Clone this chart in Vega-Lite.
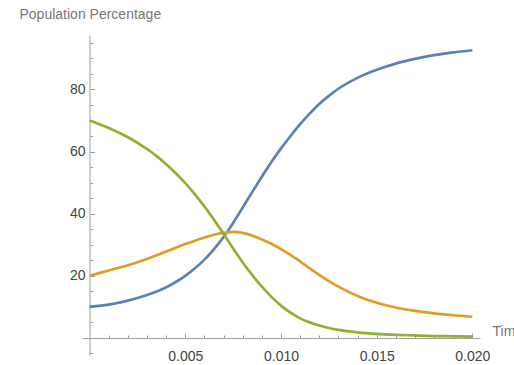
{
  "$schema": "https://vega.github.io/schema/vega-lite/v6.json",
  "width": 398,
  "height": 320,
  "autosize": {"type": "none"},
  "padding": {"left": 82, "top": 35, "right": 34, "bottom": 10},
  "background": "white",
  "config": {
    "view": {"stroke": null},
    "font": "Liberation Sans"
  },
  "data": {
    "values": [
      {"t": 0.000, "s": "A", "v": 10.0}, {"t": 0.000, "s": "B", "v": 20.0}, {"t": 0.000, "s": "C", "v": 70.0},
      {"t": 0.001, "s": "A", "v": 10.7}, {"t": 0.001, "s": "B", "v": 21.7}, {"t": 0.001, "s": "C", "v": 67.6},
      {"t": 0.002, "s": "A", "v": 12.0}, {"t": 0.002, "s": "B", "v": 23.4}, {"t": 0.002, "s": "C", "v": 64.6},
      {"t": 0.003, "s": "A", "v": 13.8}, {"t": 0.003, "s": "B", "v": 25.4}, {"t": 0.003, "s": "C", "v": 60.8},
      {"t": 0.0035, "s": "A", "v": 14.95}, {"t": 0.0035, "s": "B", "v": 26.6}, {"t": 0.0035, "s": "C", "v": 58.5},
      {"t": 0.004, "s": "A", "v": 16.3}, {"t": 0.004, "s": "B", "v": 27.8}, {"t": 0.004, "s": "C", "v": 55.9},
      {"t": 0.0045, "s": "A", "v": 18.0}, {"t": 0.0045, "s": "B", "v": 29.0}, {"t": 0.0045, "s": "C", "v": 53.0},
      {"t": 0.005, "s": "A", "v": 20.0}, {"t": 0.005, "s": "B", "v": 30.2}, {"t": 0.005, "s": "C", "v": 49.8},
      {"t": 0.0055, "s": "A", "v": 22.4}, {"t": 0.0055, "s": "B", "v": 31.3}, {"t": 0.0055, "s": "C", "v": 46.2},
      {"t": 0.006, "s": "A", "v": 25.2}, {"t": 0.006, "s": "B", "v": 32.3}, {"t": 0.006, "s": "C", "v": 42.3},
      {"t": 0.0065, "s": "A", "v": 28.6}, {"t": 0.0065, "s": "B", "v": 33.2}, {"t": 0.0065, "s": "C", "v": 38.0},
      {"t": 0.007, "s": "A", "v": 32.5}, {"t": 0.007, "s": "B", "v": 33.8}, {"t": 0.007, "s": "C", "v": 33.5},
      {"t": 0.0075, "s": "A", "v": 37.0}, {"t": 0.0075, "s": "B", "v": 34.1}, {"t": 0.0075, "s": "C", "v": 28.8},
      {"t": 0.008, "s": "A", "v": 42.0}, {"t": 0.008, "s": "B", "v": 33.8}, {"t": 0.008, "s": "C", "v": 24.3},
      {"t": 0.0085, "s": "A", "v": 47.0}, {"t": 0.0085, "s": "B", "v": 32.9}, {"t": 0.0085, "s": "C", "v": 20.2},
      {"t": 0.009, "s": "A", "v": 51.9}, {"t": 0.009, "s": "B", "v": 31.7}, {"t": 0.009, "s": "C", "v": 16.5},
      {"t": 0.0095, "s": "A", "v": 56.6}, {"t": 0.0095, "s": "B", "v": 30.3}, {"t": 0.0095, "s": "C", "v": 13.2},
      {"t": 0.010, "s": "A", "v": 61.0}, {"t": 0.010, "s": "B", "v": 28.6}, {"t": 0.010, "s": "C", "v": 10.4},
      {"t": 0.0105, "s": "A", "v": 65.0}, {"t": 0.0105, "s": "B", "v": 26.7}, {"t": 0.0105, "s": "C", "v": 8.1},
      {"t": 0.011, "s": "A", "v": 68.8}, {"t": 0.011, "s": "B", "v": 24.6}, {"t": 0.011, "s": "C", "v": 6.3},
      {"t": 0.0115, "s": "A", "v": 72.2}, {"t": 0.0115, "s": "B", "v": 22.4}, {"t": 0.0115, "s": "C", "v": 5.0},
      {"t": 0.012, "s": "A", "v": 75.3}, {"t": 0.012, "s": "B", "v": 20.3}, {"t": 0.012, "s": "C", "v": 4.0},
      {"t": 0.0125, "s": "A", "v": 77.9}, {"t": 0.0125, "s": "B", "v": 18.3}, {"t": 0.0125, "s": "C", "v": 3.2},
      {"t": 0.013, "s": "A", "v": 80.2}, {"t": 0.013, "s": "B", "v": 16.5}, {"t": 0.013, "s": "C", "v": 2.6},
      {"t": 0.014, "s": "A", "v": 83.7}, {"t": 0.014, "s": "B", "v": 13.5}, {"t": 0.014, "s": "C", "v": 1.8},
      {"t": 0.015, "s": "A", "v": 86.3}, {"t": 0.015, "s": "B", "v": 11.3}, {"t": 0.015, "s": "C", "v": 1.3},
      {"t": 0.016, "s": "A", "v": 88.3}, {"t": 0.016, "s": "B", "v": 9.8}, {"t": 0.016, "s": "C", "v": 1.0},
      {"t": 0.017, "s": "A", "v": 89.8}, {"t": 0.017, "s": "B", "v": 8.7}, {"t": 0.017, "s": "C", "v": 0.8},
      {"t": 0.018, "s": "A", "v": 91.0}, {"t": 0.018, "s": "B", "v": 7.9}, {"t": 0.018, "s": "C", "v": 0.6},
      {"t": 0.019, "s": "A", "v": 91.9}, {"t": 0.019, "s": "B", "v": 7.3}, {"t": 0.019, "s": "C", "v": 0.5},
      {"t": 0.020, "s": "A", "v": 92.6}, {"t": 0.020, "s": "B", "v": 6.8}, {"t": 0.020, "s": "C", "v": 0.4}
    ]
  },
  "mark": {"type": "line", "strokeWidth": 2.7, "interpolate": "monotone"},
  "encoding": {
    "x": {
      "field": "t",
      "type": "quantitative",
      "scale": {"domain": [-0.0004, 0.0204], "nice": false, "zero": false},
      "axis": {
        "orient": "bottom",
        "offset": -17,
        "values": [0.001, 0.002, 0.003, 0.004, 0.005, 0.006, 0.007, 0.008, 0.009, 0.010, 0.011, 0.012, 0.013, 0.014, 0.015, 0.016, 0.017, 0.018, 0.019, 0.020],
        "labelExpr": "abs(datum.value*200 - round(datum.value*200)) < 0.000001 ? format(datum.value, '.3f') : ''",
        "tickSize": {"condition": {"test": "abs(datum.value*200 - round(datum.value*200)) < 0.000001", "value": -5}, "value": -3},
        "labelPadding": 16,
        "labelBaseline": "top",
        "labelFontSize": 14,
        "labelColor": "#444444",
        "labelFont": "Liberation Sans",
        "labelFlush": false,
        "labelOverlap": false,
        "domainColor": "#a0a0a0",
        "tickColor": "#a0a0a0",
        "grid": false,
        "title": "Time",
        "titleFont": "Liberation Sans",
        "titleFontSize": 14,
        "titleFontWeight": "normal",
        "titleColor": "#777777",
        "titleAlign": "left",
        "titleBaseline": "alphabetic",
        "titleAngle": 0,
        "titleX": 410,
        "titleY": -3
      }
    },
    "y": {
      "field": "v",
      "type": "quantitative",
      "scale": {"domain": [-5.5, 97.5], "nice": false, "zero": false},
      "axis": {
        "orient": "left",
        "offset": -7.5,
        "values": [-5, 5, 10, 15, 20, 25, 30, 35, 40, 45, 50, 55, 60, 65, 70, 75, 80, 85, 90, 95],
        "labelExpr": "datum.value % 20 === 0 ? format(datum.value, 'd') : ''",
        "tickSize": {"condition": {"test": "datum.value % 20 === 0", "value": -5}, "value": -3},
        "labelPadding": 9.5,
        "labelFontSize": 14,
        "labelColor": "#444444",
        "labelFont": "Liberation Sans",
        "labelFlush": false,
        "labelOverlap": false,
        "domainColor": "#a0a0a0",
        "tickColor": "#a0a0a0",
        "grid": false,
        "title": "Population Percentage",
        "titleFont": "Liberation Sans",
        "titleFontSize": 14,
        "titleFontWeight": "normal",
        "titleColor": "#777777",
        "titleAngle": 0,
        "titleAlign": "left",
        "titleBaseline": "alphabetic",
        "titleX": -70.5,
        "titleY": -17
      }
    },
    "color": {
      "field": "s",
      "type": "nominal",
      "scale": {"domain": ["A", "B", "C"], "range": ["#5E81B5", "#E19C24", "#8FB032"]},
      "legend": null
    }
  }
}
